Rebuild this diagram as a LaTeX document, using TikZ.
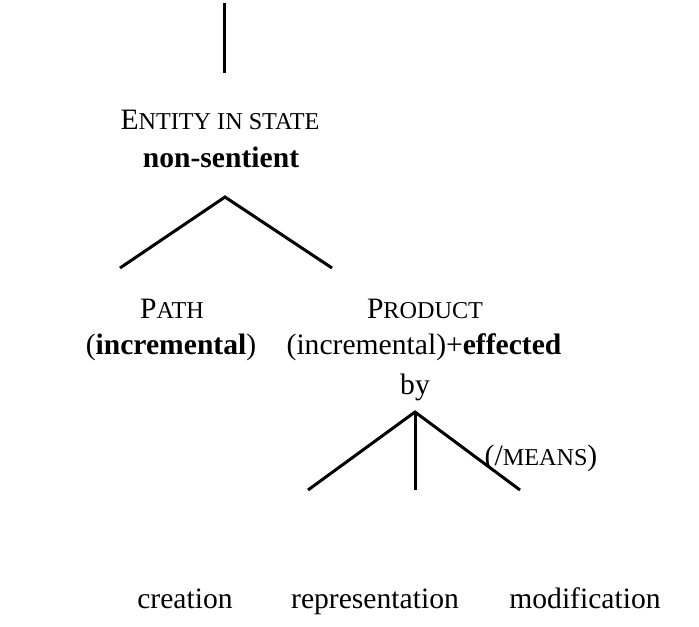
\documentclass[tikz,border=0pt]{standalone}
\usepackage{fontspec}
\setmainfont{Liberation Serif}
% faked small capitals: full-size initial, reduced capitals after it
\newcommand{\fakesc}[2]{#1{\fontsize{12.1pt}{13pt}\selectfont #2}}
\begin{document}
\begin{tikzpicture}[x=0.5pt,y=-0.5pt,
  lbl/.style={anchor=base,inner sep=0pt,font=\fontsize{14.8pt}{17pt}\selectfont},
  branch/.style={line width=1.5pt,line cap=butt}]
\useasboundingbox (0,0) rectangle (699,626);
% upper tree
\coordinate (top) at (224,3);
\coordinate (stem) at (224,73);
\node[lbl] (entity) at (220,129) {\fakesc{E}{NTITY IN STATE}};
\node[lbl] (nonsent) at (221,167) {\textbf{non-sentient}};
\coordinate (apexA) at (225,197);
\coordinate (leftA) at (120,268);
\coordinate (rightA) at (332,268);
\draw[branch] (top) -- (stem);
\draw[branch] (leftA) -- (apexA) -- (rightA);
% daughters
\node[lbl] (path) at (172,318) {\fakesc{P}{ATH}};
\node[lbl] (pathsub) at (171,354) {(\textbf{incremental})};
\node[lbl] (product) at (425,318) {\fakesc{P}{RODUCT}};
\node[lbl] (prodsub) at (424,354) {(incremental)+\textbf{effected}};
\node[lbl] (by) at (415,394) {by};
% lower tree
\coordinate (apexB) at (415,412);
\coordinate (leftB) at (308,490);
\coordinate (midB) at (415,490);
\coordinate (rightB) at (520,490);
\draw[branch] (leftB) -- (apexB) -- (rightB);
\draw[branch] (apexB) -- (midB);
\node[lbl] (means) at (541,465) {(/{\fontsize{12.1pt}{13pt}\selectfont MEANS})};
\node[lbl] (creation) at (185,608) {creation};
\node[lbl] (repr) at (375,608) {representation};
\node[lbl] (modif) at (585,608) {modification};
\end{tikzpicture}
\end{document}
